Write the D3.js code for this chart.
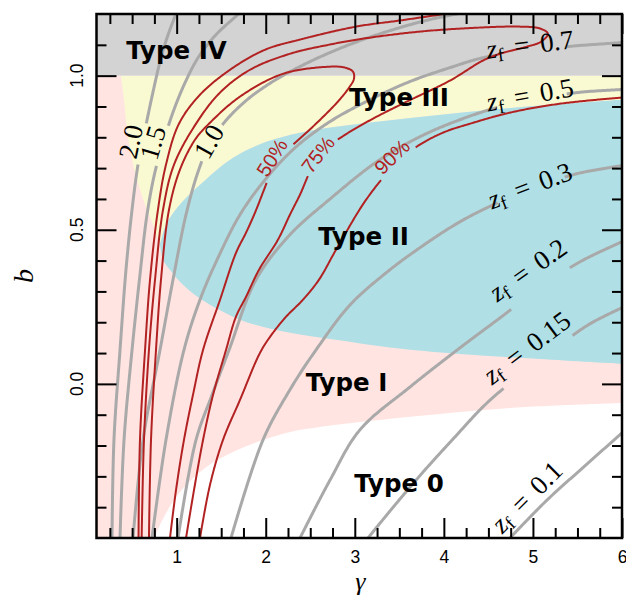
<!DOCTYPE html>
<html>
<head>
<meta charset="utf-8">
<script src="https://cdn.jsdelivr.net/npm/d3@7/dist/d3.min.js"></script>
<style>
  html, body { margin: 0; padding: 0; background: #ffffff; }
  svg { display: block; }
</style>
</head>
<body>
<svg id="chart" width="626" height="601"></svg>
<script>
// ---------- axis ranges and ticks ----------
const gammaRange = [0.1, 6];
const bRange = [-0.5, 1.2];
const gammaMajor = [1, 2, 3, 4, 5, 6];
const gammaMinor = [0.25, 0.5, 0.75, 1.25, 1.5, 1.75, 2.25, 2.5, 2.75, 3.25, 3.5, 3.75,
                    4.25, 4.5, 4.75, 5.25, 5.5, 5.75];
const bMajor = [0.0, 0.5, 1.0];
const bMajorLabels = ["0.0", "0.5", "1.0"];
const bMinor = [-0.4, -0.3, -0.2, -0.1, 0.1, 0.2, 0.3, 0.4, 0.6, 0.7, 0.8, 0.9, 1.1];

// ---------- classification regions, boundaries as [gamma, b] ----------
const type4Floor = 1.0;                 // above this b: Type IV
const type0Edge = [[0.746,-0.5],[0.869,-0.425],[1.037,-0.351],[1.318,-0.273],[1.655,-0.218],
  [1.969,-0.182],[2.272,-0.156],[2.609,-0.140],[3.620,-0.107],[4.742,-0.078],[6.0,-0.062]];
const type3Edge = [[0.375,1.0],[0.409,0.922],[0.442,0.825],[0.487,0.744],[0.555,0.662],
  [0.645,0.581],[0.734,0.516],[0.813,0.451]];
const type2Top = [[0.813,0.451],[0.880,0.516],[1.015,0.575],[1.262,0.646],[1.633,0.734],
  [2.014,0.786],[2.385,0.815],[2.789,0.834],[3.350,0.854],[4.181,0.880],[5.079,0.903],[6.0,0.922]];
const type2Bottom = [[0.813,0.451],[0.847,0.403],[0.925,0.370],[1.037,0.331],[1.217,0.286],
  [1.520,0.234],[1.778,0.201],[2.272,0.166],[2.789,0.143],[3.350,0.120],[4.181,0.097],
  [5.079,0.081],[6.0,0.065]];
const typeNames = ["Type 0", "Type I", "Type II", "Type III", "Type IV"];
const typeLabelAt = [[3.496,-0.351],[2.907,-0.023],[3.098,0.451],[3.496,0.903],[0.998,1.055]];

// ---------- formation-redshift contours z_f ----------
const zfLevels = ["2.0", "1.5", "1.0", "0.7", "0.5", "0.3", "0.2", "0.15", "0.1"];
const zf20 = [[0.274,-0.5],[0.296,-0.182],[0.364,0.110],[0.431,0.370],[0.499,0.565],[0.566,0.711],
  [0.645,0.825],[0.723,0.932],[0.813,1.045],[0.892,1.123],[0.993,1.201]];
const zf15 = [[0.364,-0.5],[0.409,-0.182],[0.499,0.110],[0.588,0.354],[0.667,0.549],[0.757,0.688],
  [0.858,0.792],[0.970,0.890],[1.094,0.977],[1.240,1.058],[1.442,1.133],[1.700,1.201]];
const zf10 = [[0.510,-0.5],[0.622,-0.182],[0.813,0.110],[0.959,0.338],[1.105,0.549],[1.240,0.688],
  [1.374,0.782],[1.543,0.851],[1.767,0.916],[2.025,0.971],[2.340,1.023],[2.722,1.075],
  [3.092,1.117],[3.508,1.156],[3.844,1.182],[4.159,1.201]];
const zf07 = [[0.723,-0.5],[0.880,-0.182],[1.082,0.110],[1.262,0.273],[1.464,0.409],[1.711,0.549],
  [1.992,0.662],[2.329,0.766],[2.722,0.851],[3.171,0.922],[3.620,0.981],[4.069,1.026],
  [4.439,1.058],[4.967,1.081],[5.494,1.097],[6.0,1.107]];
const zf05 = [[1.015,-0.5],[1.217,-0.182],[1.397,-0.036],[1.588,0.110],[1.891,0.338],[2.272,0.484],
  [2.710,0.597],[3.249,0.721],[3.732,0.802],[4.181,0.857],[4.630,0.899],[5.079,0.925],
  [5.494,0.945],[6.0,0.955]];
const zf03 = [[1.610,-0.5],[1.969,-0.182],[2.272,-0.019],[2.564,0.110],[2.946,0.256],[3.350,0.360],
  [3.732,0.442],[4.181,0.526],[4.630,0.591],[5.079,0.643],[5.494,0.682],[6.0,0.708]];
const zf02 = [[2.385,-0.5],[2.722,-0.312],[3.058,-0.149],[3.620,-0.010],[4.181,0.117],[4.630,0.214],
  [5.079,0.312],[5.528,0.396],[6.0,0.461]];
const zf015 = [[3.148,-0.5],[3.451,-0.393],[3.788,-0.279],[4.125,-0.172],[4.462,-0.068],
  [4.855,0.029],[5.304,0.127],[5.641,0.195],[6.0,0.247]];
const zf01 = [[4.742,-0.5],[5.158,-0.377],[5.584,-0.266],[6.0,-0.159]];
const zfCurves = [zf20, zf15, zf10, zf07, zf05, zf03, zf02, zf015, zf01];
const zfLabelAt = [[0.487,0.786],[0.734,0.782],[1.363,0.786],[4.967,1.101],[4.967,0.938],
  [4.967,0.643],[4.945,0.370],[4.933,0.117],[4.933,-0.367]];
const zfLabelGap = [true, true, true, true, true, true, true, true, false];

// ---------- fraction contours ----------
const fracLevels = ["50%", "75%", "90%"];
const frac50 = [[0.689,-0.5],[0.712,-0.182],[0.768,0.110],[0.824,0.338],[0.914,0.565],[1.037,0.695],
  [1.206,0.792],[1.363,0.844],[1.711,0.932],[2.194,1.006],[2.710,1.029],[2.890,1.026],
  [2.980,1.013],[2.991,0.990],[2.935,0.961],[2.811,0.916],[2.564,0.844],[2.329,0.782],
  [2.160,0.737],[2.048,0.679],[1.981,0.630],[1.879,0.555],[1.778,0.490],[1.666,0.425],
  [1.487,0.273],[1.296,0.110],[1.183,-0.036],[1.082,-0.182],[0.993,-0.344],[0.925,-0.5]];
const frac75 = [[0.607,-0.5],[0.633,-0.182],[0.689,0.110],[0.757,0.338],[0.847,0.565],[0.970,0.711],
  [1.217,0.844],[1.487,0.945],[1.823,1.019],[2.272,1.071],[2.722,1.101],[3.092,1.120],
  [3.732,1.143],[4.406,1.156],[4.855,1.159],[5.079,1.153],[5.169,1.136],[5.090,1.110],
  [4.933,1.094],[4.630,1.071],[4.439,1.049],[4.069,0.984],[3.586,0.916],[3.227,0.864],
  [2.890,0.808],[2.665,0.760],[2.519,0.701],[2.385,0.614],[2.272,0.549],[2.138,0.468],
  [1.924,0.370],[1.778,0.282],[1.666,0.218],[1.554,0.110],[1.408,-0.036],[1.296,-0.182],
  [1.195,-0.344],[1.105,-0.5]];
const frac90Left = [[0.572,-0.5],[0.588,-0.182],[0.645,0.110],[0.701,0.338],[0.790,0.565],
  [0.880,0.711],[1.026,0.844],[1.262,0.938],[1.599,1.019],[1.992,1.084],[2.385,1.117],
  [3.013,1.159],[3.508,1.179],[3.957,1.198],[4.181,1.208]];
const frac90Right = [[6.0,0.929],[5.304,0.909],[4.742,0.880],[4.293,0.844],[3.990,0.815],
  [3.676,0.766],[3.418,0.701],[3.126,0.597],[2.789,0.435],[2.598,0.338],[2.418,0.273],
  [2.216,0.214],[2.025,0.143],[1.924,0.094],[1.711,-0.052],[1.520,-0.182],[1.374,-0.328],
  [1.262,-0.5]];
const fracLabelAt = [[2.070,0.734],[2.587,0.744],[3.418,0.737]];

// ---------- layout ----------
const W = 626, H = 601;
const plot = { left: 96.5, right: 622, top: 14, bottom: 538 };
const x = d3.scaleLinear().domain(gammaRange).range([plot.left, plot.right]);
const y = d3.scaleLinear().domain(bRange).range([plot.bottom, plot.top]);

const colors = {
  type0: "#ffffff", type1: "#ffe4e1", type2: "#b0e0e6", type3: "#fafad2", type4: "#d3d3d3",
  zf: "#a9a9a9", frac: "#b22222"
};
const serif = "'Liberation Serif', 'DejaVu Serif', serif";
const sans = "'Liberation Sans', 'DejaVu Sans', sans-serif";

const svg = d3.select("#chart");
svg.append("defs").append("clipPath").attr("id", "plotClip")
  .append("rect")
  .attr("x", plot.left).attr("y", plot.top)
  .attr("width", plot.right - plot.left).attr("height", plot.bottom - plot.top);

const smooth = d3.line().x(d => x(d[0])).y(d => y(d[1])).curve(d3.curveCatmullRom.alpha(0.5));
const straight = d3.line().x(d => d[0]).y(d => d[1]);
const joinPaths = (a, b) => a + "L" + b.slice(1);

// ---------- filled regions ----------
const regions = svg.append("g").attr("clip-path", "url(#plotClip)");
regions.append("rect")
  .attr("x", x(gammaRange[0])).attr("y", y(type4Floor))
  .attr("width", x(gammaRange[1]) - x(gammaRange[0]))
  .attr("height", y(bRange[0]) - y(type4Floor))
  .attr("fill", colors.type1);
regions.append("path")
  .attr("d", smooth(type0Edge) + `L${x(6)},${y(-0.5)}Z`)
  .attr("fill", colors.type0);
regions.append("path")
  .attr("d", joinPaths(smooth(type3Edge), smooth(type2Top)) + `L${x(6)},${y(type4Floor)}Z`)
  .attr("fill", colors.type3);
regions.append("path")
  .attr("d", joinPaths(smooth(type2Top), smooth(type2Bottom.slice().reverse())) + "Z")
  .attr("fill", colors.type2);
regions.append("rect")
  .attr("x", x(gammaRange[0])).attr("y", y(bRange[1]))
  .attr("width", x(gammaRange[1]) - x(gammaRange[0]))
  .attr("height", y(type4Floor) - y(bRange[1]))
  .attr("fill", colors.type4);

// ---------- contour lines with inline labels ----------
const lineLayer = svg.append("g").attr("clip-path", "url(#plotClip)");
const labelLayer = svg.append("g").attr("clip-path", "url(#plotClip)");
const scratch = svg.append("g").attr("visibility", "hidden");

function sampleCurve(pts) {
  const p = scratch.append("path").attr("d", smooth(pts));
  const node = p.node();
  const L = node.getTotalLength();
  const n = Math.max(2, Math.ceil(L / 1.5));
  const out = [];
  for (let i = 0; i <= n; i++) {
    const s = L * i / n;
    const q = node.getPointAtLength(s);
    out.push({ s, x: q.x, y: q.y });
  }
  p.remove();
  return out;
}

function contour(pts, stroke, width, labels) {
  const samples = sampleCurve(pts);
  const cuts = [];
  labels.forEach(lb => {
    const ax = x(lb.at[0]), ay = y(lb.at[1]);
    let best = 0, bd = Infinity;
    samples.forEach((p, i) => {
      const d = (p.x - ax) ** 2 + (p.y - ay) ** 2;
      if (d < bd) { bd = d; best = i; }
    });
    const i0 = Math.max(0, best - 5), i1 = Math.min(samples.length - 1, best + 5);
    let ang = Math.atan2(samples[i1].y - samples[i0].y, samples[i1].x - samples[i0].x) * 180 / Math.PI;
    if (ang > 90) ang -= 180;
    if (ang < -90) ang += 180;
    const t = labelLayer.append("text")
      .attr("text-anchor", "middle")
      .attr("dominant-baseline", "central")
      .attr("transform", `translate(${ax},${ay}) rotate(${ang})`);
    lb.make(t);
    const w = t.node().getComputedTextLength();
    if (lb.gap) cuts.push([samples[best].s - w / 2 - 3, samples[best].s + w / 2 + 3]);
  });
  const runs = [];
  let run = [];
  samples.forEach(p => {
    if (cuts.some(c => p.s > c[0] && p.s < c[1])) {
      if (run.length > 1) runs.push(run);
      run = [];
    } else run.push([p.x, p.y]);
  });
  if (run.length > 1) runs.push(run);
  runs.forEach(r => lineLayer.append("path")
    .attr("d", straight(r))
    .attr("fill", "none")
    .attr("stroke", stroke)
    .attr("stroke-width", width)
    .attr("stroke-linejoin", "round"));
}

function numberLabel(text) {
  return t => t.attr("font-family", serif).attr("font-size", 27).attr("fill", "#000").text(text);
}
function zfLabel(value) {
  return t => {
    t.attr("font-family", serif).attr("font-size", 27).attr("fill", "#000");
    t.append("tspan").attr("font-style", "italic").text("z");
    t.append("tspan").attr("font-size", 19).attr("dy", 6).text("f");
    t.append("tspan").attr("dy", -6).attr("dx", 11).text("=");
    t.append("tspan").attr("dx", 11).text(value);
  };
}
function fracLabel(text) {
  return t => t.attr("font-family", sans).attr("font-size", 20).attr("fill", colors.frac).text(text);
}

zfCurves.forEach((pts, i) => {
  const make = i < 3 ? numberLabel(zfLevels[i]) : zfLabel(zfLevels[i]);
  contour(pts, colors.zf, 3, [{ at: zfLabelAt[i], gap: zfLabelGap[i], make }]);
});

contour(frac50, colors.frac, 2, [{ at: fracLabelAt[0], gap: true, make: fracLabel(fracLevels[0]) }]);
contour(frac75, colors.frac, 2, [{ at: fracLabelAt[1], gap: true, make: fracLabel(fracLevels[1]) }]);
contour(frac90Left, colors.frac, 2, []);
contour(frac90Right, colors.frac, 2, [{ at: fracLabelAt[2], gap: true, make: fracLabel(fracLevels[2]) }]);

// ---------- region names ----------
svg.append("g").selectAll("text")
  .data(typeNames)
  .join("text")
  .attr("x", (d, i) => x(typeLabelAt[i][0]))
  .attr("y", (d, i) => y(typeLabelAt[i][1]))
  .attr("text-anchor", "middle")
  .attr("font-family", "'DejaVu Sans', sans-serif")
  .attr("font-weight", "bold")
  .attr("font-size", 24.5)
  .attr("fill", "#000")
  .text(d => d);

// ---------- axes ----------
function styleTicks(g) {
  g.select(".domain").remove();
  g.selectAll(".tick line").attr("stroke", "#000").attr("stroke-width", 2);
}
const axes = svg.append("g");
axes.append("g").attr("transform", `translate(0,${plot.bottom})`)
  .call(d3.axisBottom(x).tickValues(gammaMajor).tickFormat(d3.format("d"))
    .tickSizeInner(-20).tickSizeOuter(0).tickPadding(13))
  .call(styleTicks)
  .call(g => g.selectAll(".tick text")
    .attr("font-family", sans).attr("font-size", 17.5).attr("fill", "#000"));
axes.append("g").attr("transform", `translate(0,${plot.bottom})`)
  .call(d3.axisBottom(x).tickValues(gammaMinor).tickFormat("").tickSizeInner(-10).tickSizeOuter(0))
  .call(styleTicks);
axes.append("g").attr("transform", `translate(0,${plot.top})`)
  .call(d3.axisTop(x).tickValues(gammaMajor).tickFormat("").tickSizeInner(-20).tickSizeOuter(0))
  .call(styleTicks);
axes.append("g").attr("transform", `translate(0,${plot.top})`)
  .call(d3.axisTop(x).tickValues(gammaMinor).tickFormat("").tickSizeInner(-10).tickSizeOuter(0))
  .call(styleTicks);
axes.append("g").attr("transform", `translate(${plot.left},0)`)
  .call(d3.axisLeft(y).tickValues(bMajor).tickFormat("").tickSizeInner(-20).tickSizeOuter(0))
  .call(styleTicks);
axes.append("g").attr("transform", `translate(${plot.left},0)`)
  .call(d3.axisLeft(y).tickValues(bMinor).tickFormat("").tickSizeInner(-10).tickSizeOuter(0))
  .call(styleTicks);
axes.append("g").attr("transform", `translate(${plot.right},0)`)
  .call(d3.axisRight(y).tickValues(bMajor).tickFormat("").tickSizeInner(-20).tickSizeOuter(0))
  .call(styleTicks);
axes.append("g").attr("transform", `translate(${plot.right},0)`)
  .call(d3.axisRight(y).tickValues(bMinor).tickFormat("").tickSizeInner(-10).tickSizeOuter(0))
  .call(styleTicks);

// rotated labels on the b axis
axes.append("g").selectAll("text")
  .data(bMajor)
  .join("text")
  .attr("transform", d => `translate(${plot.left - 14},${y(d)}) rotate(-90)`)
  .attr("text-anchor", "middle")
  .attr("font-family", sans).attr("font-size", 17.5).attr("fill", "#000")
  .text((d, i) => bMajorLabels[i]);

// frame
axes.append("rect")
  .attr("x", plot.left).attr("y", plot.top)
  .attr("width", plot.right - plot.left).attr("height", plot.bottom - plot.top)
  .attr("fill", "none").attr("stroke", "#000").attr("stroke-width", 2.5);

// axis titles
axes.append("text")
  .attr("x", (plot.left + plot.right) / 2 + 1).attr("y", 590)
  .attr("text-anchor", "middle")
  .attr("font-family", serif).attr("font-style", "italic").attr("font-size", 26)
  .text("γ");
axes.append("text")
  .attr("transform", `translate(23,${(plot.top + plot.bottom) / 2}) rotate(-90)`)
  .attr("text-anchor", "middle").attr("dominant-baseline", "central")
  .attr("font-family", serif).attr("font-style", "italic").attr("font-size", 28)
  .text("b");
</script>
</body>
</html>
